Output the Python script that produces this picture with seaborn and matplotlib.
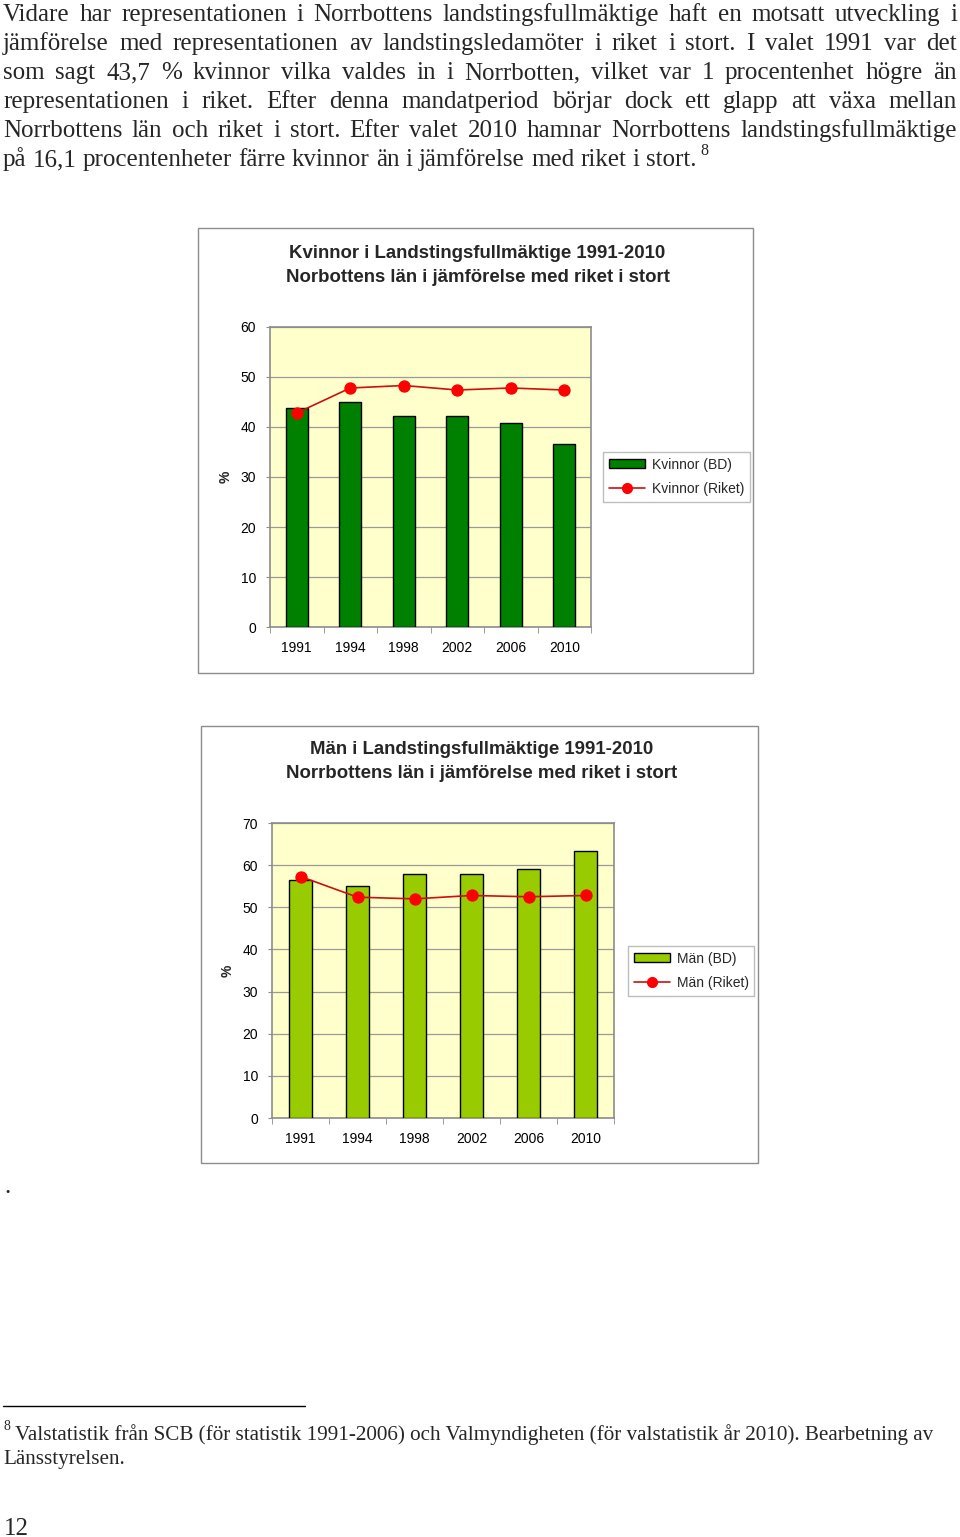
import numpy as np
import pandas as pd
import seaborn as sns
import matplotlib
matplotlib.use("Agg")
import matplotlib.pyplot as plt
from matplotlib.patches import Rectangle, Patch
from matplotlib.lines import Line2D

# ---------------- data ----------------
years = ["1991", "1994", "1998", "2002", "2006", "2010"]
kvinnor_bd = [43.8, 45.0, 42.3, 42.3, 40.9, 36.6]
kvinnor_riket = [42.8, 47.8, 48.3, 47.4, 47.8, 47.4]
man_bd = [56.4, 55.0, 57.8, 57.8, 59.2, 63.4]
man_riket = [57.3, 52.4, 52.0, 52.8, 52.5, 52.8]

paragraph = [
    "Vidare har representationen i Norrbottens landstingsfullmäktige haft en motsatt utveckling i",
    "jämförelse med representationen av landstingsledamöter i riket i stort. I valet 1991 var det",
    "som sagt 43,7 % kvinnor vilka valdes in i Norrbotten, vilket var 1 procentenhet högre än",
    "representationen i riket. Efter denna mandatperiod börjar dock ett glapp att växa mellan",
    "Norrbottens län och riket i stort. Efter valet 2010 hamnar Norrbottens landstingsfullmäktige",
    "på 16,1 procentenheter färre kvinnor än i jämförelse med riket i stort.",
]
footnote = [
    "Valstatistik från SCB (för statistik 1991-2006) och Valmyndigheten (för valstatistik år 2010). Bearbetning av",
    "Länsstyrelsen.",
]

sns.set_style("white")
plt.rcParams["font.family"] = ["Liberation Sans", "DejaVu Sans"]

W, H = 960, 1537
fig = plt.figure(figsize=(W / 100, H / 100), dpi=100)
fig.patch.set_facecolor("white")


def fx(x):
    return x / W


def fy(y):
    return 1 - y / H


renderer = fig.canvas.get_renderer()
SERIF = ["Liberation Serif", "DejaVu Serif"]


def text_width(s, size):
    t = fig.text(0, 0, s, fontsize=size, family=SERIF)
    w = t.get_window_extent(renderer).width
    t.remove()
    return w


def justified_line(line, ybase, x0, x1, size, justify=True):
    words = line.split(" ")
    texts = [fig.text(0, fy(ybase), w, fontsize=size, family=SERIF,
                      va="baseline", ha="left") for w in words]
    widths = [t.get_window_extent(renderer).width for t in texts]
    natural_gap = text_width("a a", size) - text_width("aa", size)
    if justify and len(words) > 1:
        gap = (x1 - x0 - sum(widths)) / (len(words) - 1)
        gap = max(gap, natural_gap * 0.6)
    else:
        gap = natural_gap
    x = x0
    for t, w in zip(texts, widths):
        t.set_x(fx(x))
        x += w + gap
    return x - gap


# paragraph
PSIZE = 18.0
for i, line in enumerate(paragraph):
    last = i == len(paragraph) - 1
    yb = 21 + 29 * i
    xend = justified_line(line, yb, 3, 957, PSIZE, justify=not last)
    if last:
        fig.text(fx(xend + 4), fy(yb - 11), "8", fontsize=11.5,
                 family=SERIF, va="baseline", ha="left")


def draw_chart(frame, axrect, bd, riket, bar_color, ymax, title_lines, title_y,
               labels, legend_xy, ylab_x):
    # outer frame
    fig.patches.append(Rectangle((fx(frame[0]), fy(frame[3])),
                                 fx(frame[2] - frame[0]), (frame[3] - frame[1]) / H,
                                 transform=fig.transFigure, fill=False,
                                 edgecolor="#8c8c8c", linewidth=1.0))
    l, t, r, b = axrect
    ax = fig.add_axes([fx(l), fy(b), fx(r - l), (b - t) / H])
    df = pd.DataFrame({"year": years, "bd": bd, "riket": riket})
    sns.barplot(data=df, x="year", y="bd", color=bar_color, saturation=1,
                edgecolor="black", linewidth=1.0, width=0.41, ax=ax, zorder=3)
    sns.pointplot(data=df, x="year", y="riket", color="#ff0000", markers="o",
                  markersize=8, linewidth=1.2, errorbar=None, ax=ax, zorder=4)
    for ln in ax.lines:
        ln.set_color("#cc1010")
        ln.set_markerfacecolor("#ff0000")
        ln.set_markeredgecolor("#ff0000")
        ln.set_zorder(5)
    ax.set_facecolor("#ffffcc")
    ax.set_ylim(0, ymax)
    ax.set_xlim(-0.5, len(years) - 0.5)
    ax.set_yticks(np.arange(0, ymax + 1, 10))
    ax.yaxis.grid(True, color="#9a9a9a", linewidth=0.9, zorder=0)
    ax.set_axisbelow(True)
    ax.xaxis.grid(False)
    for s in ax.spines.values():
        s.set_visible(True)
        s.set_color("#8c8c8c")
        s.set_linewidth(1.2)
    ax.set_xticks(np.arange(len(years)))
    ax.set_xticklabels(years)
    ax.set_xticks(np.arange(-0.5, len(years), 1), minor=True)
    ax.tick_params(axis="x", which="major", length=0, pad=10, labelsize=10,
                   labelcolor="black")
    ax.tick_params(axis="x", which="minor", length=4, color="#8c8c8c",
                   direction="out", bottom=True)
    ax.tick_params(axis="y", which="major", length=3, color="#8c8c8c",
                   direction="out", left=True, pad=7, labelsize=10,
                   labelcolor="black")
    ax.set_xlabel("")
    ax.set_ylabel("%", fontsize=10, fontweight="bold")
    ax.yaxis.set_label_coords((ylab_x - l) / (r - l), 0.5)
    for k, tl in enumerate(title_lines):
        fig.text(fx((frame[0] + frame[2]) / 2 + 2), fy(title_y[k]), tl,
                 ha="center", va="center", fontsize=13.4, fontweight="bold")
    handles = [
        Patch(facecolor=bar_color, edgecolor="black", linewidth=1.0, label=labels[0]),
        Line2D([0], [0], color="#cc1010", marker="o", markersize=7,
               markerfacecolor="#ff0000", markeredgecolor="#ff0000",
               linewidth=1.2, label=labels[1]),
    ]
    leg = ax.legend(handles=handles, loc="upper left",
                    bbox_to_anchor=(fx(legend_xy[0]), fy(legend_xy[1])),
                    bbox_transform=fig.transFigure, fontsize=10, frameon=True,
                    fancybox=False, framealpha=1, edgecolor="#bdbdbd",
                    handlelength=2.6, handleheight=0.6, handletextpad=0.5,
                    borderpad=0.4, labelspacing=0.75, borderaxespad=0)
    leg.get_frame().set_linewidth(1.0)
    return ax


draw_chart(frame=(198, 228, 753, 673), axrect=(270, 327, 591, 627),
           bd=kvinnor_bd, riket=kvinnor_riket, bar_color="#008000", ymax=60,
           title_lines=["Kvinnor i Landstingsfullmäktige 1991-2010",
                        "Norbottens län i jämförelse med riket i stort"],
           title_y=[253, 277], labels=["Kvinnor (BD)", "Kvinnor (Riket)"],
           legend_xy=(603, 452), ylab_x=233)

draw_chart(frame=(201, 726, 758, 1163), axrect=(272, 823, 614, 1118),
           bd=man_bd, riket=man_riket, bar_color="#99cc00", ymax=70,
           title_lines=["Män i Landstingsfullmäktige 1991-2010",
                        "Norrbottens län i jämförelse med riket i stort"],
           title_y=[750, 774], labels=["Män (BD)", "Män (Riket)"],
           legend_xy=(628, 946), ylab_x=235)

# stray dot
fig.text(fx(4), fy(1193), ".", fontsize=PSIZE, family=SERIF, va="baseline")

# footnote separator
fig.add_artist(Line2D([fx(3), fx(305)], [fy(1406), fy(1406)],
                      transform=fig.transFigure, color="black", linewidth=1.0))
fig.text(fx(4), fy(1430), "8", fontsize=10, family=SERIF, va="baseline")
fig.text(fx(15), fy(1440), footnote[0], fontsize=15.2, family=SERIF, va="baseline")
fig.text(fx(3), fy(1464), footnote[1], fontsize=15.2, family=SERIF, va="baseline")

# page number
fig.text(fx(4), fy(1535), "12", fontsize=18.0, family=SERIF, va="baseline")

fig.savefig("out.png", dpi=100)
